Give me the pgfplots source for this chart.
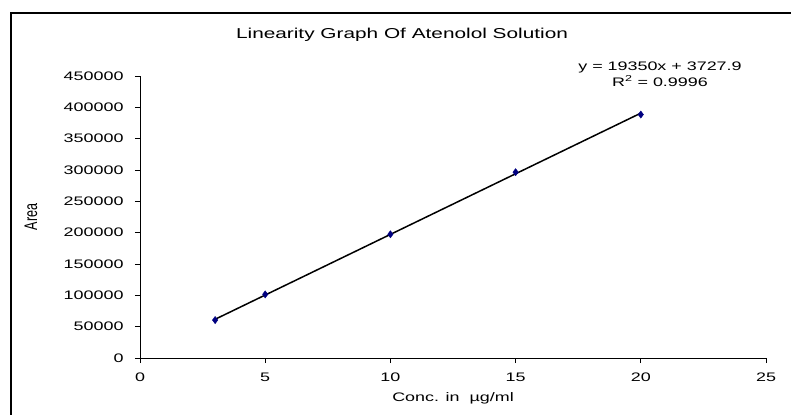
\documentclass[border=0pt]{standalone}
\usepackage{fontspec}
\setmainfont{Liberation Sans}[FakeStretch=1.45]
\newfontfamily\plainsans{Liberation Sans}
\usepackage{pgfplots}
\pgfplotsset{compat=1.18}
\definecolor{navy}{RGB}{0,0,128}
\begin{document}
\begin{tikzpicture}[x=1bp,y=1bp]
\path[use as bounding box] (-140,-56) rectangle (651,358);
\draw[line width=1.3bp, black] (-129,-70) -- (-129,345) -- (670,345);
\begin{axis}[
  at={(0,0)}, anchor=origin,
  scale only axis, width=626bp, height=282bp,
  xmin=0, xmax=25, ymin=0, ymax=450000,
  xtick={0,5,...,25}, ytick={0,50000,...,450000},
  axis x line*=bottom, axis y line*=left,
  axis line style={line width=0.9bp, black},
  tick align=outside, tick style={line width=0.9bp, black},
  major tick length=5bp,
  scaled y ticks=false,
  /pgf/number format/assume math mode=true,
  /pgf/number format/fixed,
  /pgf/number format/1000 sep={},
  yticklabel style={xshift=-8bp},
  xticklabel style={yshift=-6bp},
  ticklabel style={font=\fontsize{12.4}{14}\selectfont},
  clip=false,
]
\addplot[black, line width=1.5bp, no marks] coordinates {(3,61778) (20,390728)};
\addplot[only marks, mark=diamond*, mark size=3.6bp, color=navy, fill=navy] coordinates {
 (3,60500) (5,101500) (10,197500) (15,296500) (20,388500)};
\end{axis}
\node[font=\fontsize{14.4}{16}\selectfont] at (262,323) {Linearity Graph Of Atenolol Solution};
\node[font=\fontsize{12.4}{16}\selectfont, align=center] at (520,284) {y = 19350x + 3727.9\\R\textsuperscript{2} = 0.9996};
\node[font=\fontsize{12.4}{14}\selectfont] at (313,-40) {Conc. in\ \ µg/ml};
\node[rotate=90] at (-109,141) {\scalebox{1}[1.45]{\plainsans\fontsize{12.6}{14}\selectfont Area}};
\end{tikzpicture}
\end{document}
